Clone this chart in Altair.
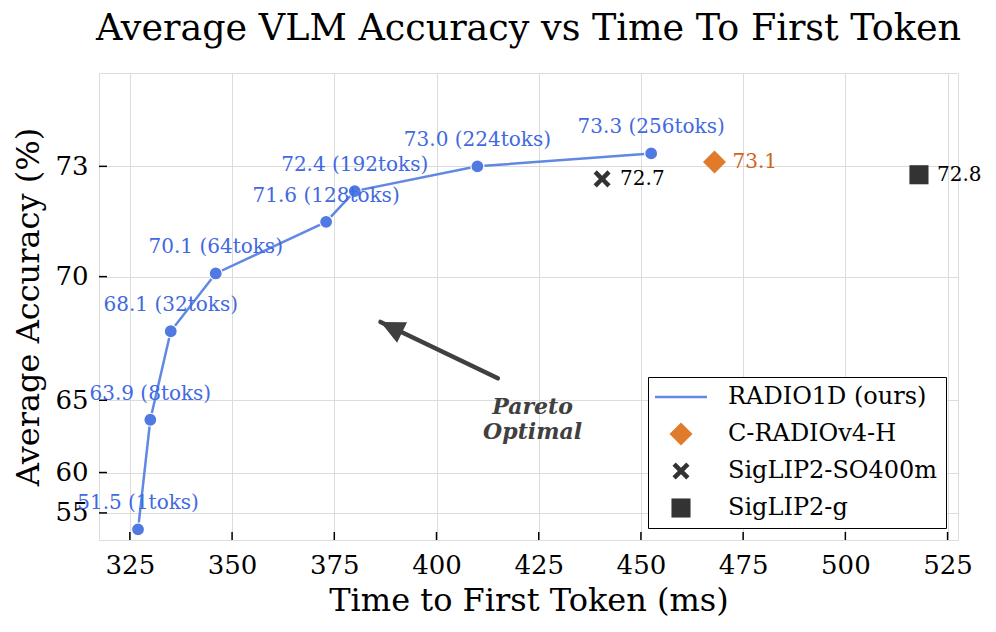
import altair as alt
import pandas as pd

# ---------------- data ----------------
tokens = ["1toks", "8toks", "32toks", "64toks", "128toks", "192toks", "224toks", "256toks"]
radio_ttft = [327.0, 330.0, 335.0, 346.0, 373.0, 380.0, 410.0, 452.5]
radio_acc = [51.5, 63.9, 68.1, 70.1, 71.6, 72.4, 73.0, 73.3]

base_models = ["C-RADIOv4-H", "SigLIP2-SO400m", "SigLIP2-g"]
base_ttft = [468.0, 440.5, 518.0]
base_acc = [73.1, 72.7, 72.8]

legend_names = ["RADIO1D (ours)", "C-RADIOv4-H", "SigLIP2-SO400m", "SigLIP2-g"]

x_ticks = [325, 350, 375, 400, 425, 450, 475, 500, 525]
y_ticks = [55, 60, 65, 70, 73]

arrow_ttft = [415.0, 386.3]
arrow_acc = [66.1, 68.45]
note_ttft = [423.5]
note_acc = [64.65]
note_text = ["Pareto\nOptimal"]

# ---------------- styles ----------------
FONT = "DejaVu Serif"
BLUE_LINE = "#6088e4"
BLUE_PT = "#5079e2"
BLUE_TXT = "#4169e1"
ORANGE = "#e07b2c"
ORANGE_TXT = "#d0641c"
DARK = "#333333"
legend_colors = [BLUE_LINE, ORANGE, DARK, DARK]
LINE_PATH = "M-2.26,-0.1L2.26,-0.1L2.26,0.1L-2.26,0.1Z"
X_PATH = ("M-0.74,-0.46L-0.46,-0.74L0,-0.28L0.46,-0.74L0.74,-0.46L0.28,0"
          "L0.74,0.46L0.46,0.74L0,0.28L-0.46,0.74L-0.74,0.46L-0.28,0Z")
SQ_PATH = "M-0.83,-0.83L0.83,-0.83L0.83,0.83L-0.83,0.83Z"
legend_shapes = [LINE_PATH, "diamond", X_PATH, SQ_PATH]
HEAD_PATH = "M0,0L-0.57,1.2L0.57,1.2Z"

W, H = 859, 467

# ---------------- tables ----------------
radio_df = pd.DataFrame({
    "ttft": radio_ttft,
    "acc": radio_acc,
    "label": [f"{a:.1f} ({t})" for a, t in zip(radio_acc, tokens)],
})
base_df = pd.DataFrame({
    "ttft": base_ttft,
    "acc": base_acc,
    "model": base_models,
    "label": [f"{a:.1f}" for a in base_acc],
})
xt_df = pd.DataFrame({"ttft": x_ticks})
yt_df = pd.DataFrame({"acc": y_ticks})
arrow_df = pd.DataFrame({"ttft": [arrow_ttft[0]], "acc": [arrow_acc[0]],
                         "ttft2": [arrow_ttft[1]], "acc2": [arrow_acc[1]]})
head_df = pd.DataFrame({"ttft": [arrow_ttft[1]], "acc": [arrow_acc[1]]})
note_df = pd.DataFrame({"ttft": note_ttft, "acc": note_acc, "label": note_text})

xs = alt.Scale(domain=[317.45, 527.55], nice=False, zero=False)
ys = alt.Scale(type="pow", exponent=8, domain=[47.8, 75.0], nice=False, zero=False)

xaxis = alt.Axis(values=x_ticks, grid=True, gridColor="#dcdcdc", gridWidth=1,
                 ticks=False, tickSize=0, domain=False, labelFont=FONT,
                 labelFontSize=26, labelColor="black", labelPadding=12,
                 titleFont=FONT, titleFontSize=32, titleFontWeight="normal",
                 titleColor="black", titleY=70, titleBaseline="alphabetic")
yaxis = alt.Axis(values=y_ticks, grid=True, gridColor="#dcdcdc", gridWidth=1,
                 ticks=False, tickSize=0, domain=False, labelFont=FONT,
                 labelFontSize=26, labelColor="black", labelPadding=11,
                 titleFont=FONT, titleFontSize=32, titleFontWeight="normal",
                 titleColor="black", titleX=-61, titleBaseline="alphabetic")

X = alt.X("ttft:Q", scale=xs, axis=xaxis, title="Time to First Token (ms)")
Y = alt.Y("acc:Q", scale=ys, axis=yaxis, title="Average Accuracy (%)")

leg = alt.Legend(title=None, orient="bottom-right", offset=12, labelFont=FONT,
                 labelFontSize=24, labelColor="black", labelLimit=500, symbolSize=529,
                 symbolStrokeWidth=0, strokeColor="black", fillColor="white",
                 padding=8, rowPadding=13, cornerRadius=0, labelOffset=35,
                 symbolOffset=13)

line = alt.Chart(radio_df).mark_line(color=BLUE_LINE, strokeWidth=2.5).encode(x=X, y=Y)
pts = alt.Chart(radio_df).mark_circle(size=169, color=BLUE_PT, opacity=1,
                                      stroke="white", strokeWidth=1.2).encode(x=X, y=Y)
lbls = alt.Chart(radio_df).mark_text(font=FONT, fontSize=20, color=BLUE_TXT,
                                     dy=-26, baseline="middle", align="center").encode(
    x=X, y=Y, text="label:N")

base_pts = alt.Chart(base_df).mark_point(filled=True, size=529, opacity=1,
                                         strokeWidth=0).encode(
    x=X, y=Y,
    color=alt.Color("model:N", scale=alt.Scale(domain=legend_names, range=legend_colors), legend=leg),
    shape=alt.Shape("model:N", scale=alt.Scale(domain=legend_names, range=legend_shapes), legend=leg),
)
base_lbls = alt.Chart(base_df).mark_text(font=FONT, fontSize=20, dx=18, align="left",
                                         baseline="middle").encode(
    x=X, y=Y, text="label:N",
    color=alt.condition("datum.model == 'C-RADIOv4-H'", alt.value(ORANGE_TXT), alt.value("black")),
)

arrow = alt.Chart(arrow_df).mark_rule(color="#404040", strokeWidth=4.5, strokeCap="round").encode(
    x=X, y=Y, x2="ttft2:Q", y2="acc2:Q")
head = alt.Chart(head_df).mark_point(shape=HEAD_PATH, filled=True, size=1600, angle=296,
                                     color="#404040", opacity=1, strokeWidth=0).encode(x=X, y=Y)
note = alt.Chart(note_df).mark_text(font=FONT, fontSize=22, fontWeight="bold", fontStyle="italic",
                                    color="#404040", lineBreak="\n", lineHeight=25,
                                    baseline="middle", align="center").encode(
    x=X, y=Y, text="label:N")

xt = alt.Chart(xt_df).mark_rule(color="black", strokeWidth=1.5).encode(
    x=X, y=alt.value(H), y2=alt.value(H - 8))
yt = alt.Chart(yt_df).mark_rule(color="black", strokeWidth=1.5).encode(
    y=Y, x=alt.value(0), x2=alt.value(8))

chart = alt.layer(line, pts, lbls, base_pts, base_lbls, arrow, head, note, xt, yt).properties(
    width=W, height=H,
    title=alt.Title("Average VLM Accuracy vs Time To First Token", font=FONT, fontSize=36.5,
                    fontWeight="normal", color="black", anchor="middle", frame="group",
                    baseline="alphabetic", offset=-3),
    autosize=alt.AutoSizeParams(type="none"),
    padding={"left": 99, "top": 73, "right": 38, "bottom": 92},
).configure_view(stroke="black", strokeWidth=1.5).configure(background="white")

chart.save("out.html", embed_options={"renderer": "svg", "actions": False})
